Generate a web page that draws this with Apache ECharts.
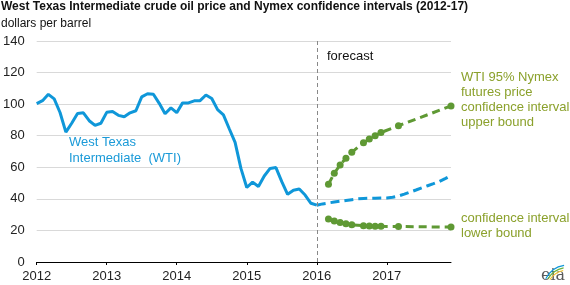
<!DOCTYPE html>
<html>
<head>
<meta charset="utf-8">
<style>
  html, body { margin: 0; padding: 0; background: #fff; }
  #chart { width: 570px; height: 285px; }
</style>
<script src="https://cdn.jsdelivr.net/npm/echarts@6/dist/echarts.min.js"></script>
</head>
<body>
<div id="chart"></div>
<script>
// data
var years = [2012, 2013, 2014, 2015, 2016, 2017];
var yTicks = [0, 20, 40, 60, 80, 100, 120, 140];

// monthly WTI history, Jan 2012 - Jan 2016
var wtiHistory = [
  100.3, 102.2, 106.2, 103.3, 94.7, 82.3, 87.9, 94.1, 94.5, 89.5, 86.5, 87.9,
  94.8, 95.3, 92.9, 92.0, 94.5, 95.8, 104.6, 106.6, 106.3, 100.5, 93.9, 97.6,
  94.6, 100.8, 100.8, 102.1, 102.2, 105.8, 103.6, 96.5, 93.2, 84.4, 75.8, 59.3,
  47.2, 50.6, 47.8, 54.5, 59.3, 59.8, 50.9, 42.9, 45.5, 46.2, 42.4, 37.2,
  36.0
];
// forecast, Jan 2016 - Dec 2017
var wtiForecast = [
  36.0, 36.8, 37.4, 38.0, 38.5, 39.0, 39.5, 40.0, 40.3, 40.4, 40.4, 40.5,
  40.6, 41.0, 41.8, 43.0, 44.3, 45.6, 47.0, 48.3, 49.6, 51.0, 52.8, 54.7
];
// confidence bounds (null = no contract point that month), Jan 2016 - Dec 2017
var upperBound = [
  null, null, 49.3, 56.2, 61.5, 65.7, 69.5, null, 75.6, 77.9, 80.0, 82.0,
  null, null, 86.3, null, null, null, null, null, null, null, null, 98.9
];
var lowerBound = [
  null, null, 27.2, 26.0, 25.0, 24.2, 23.6, null, 23.0, 22.8, 22.7, 22.6,
  null, null, 22.5, null, null, null, null, null, null, null, null, 22.1
];

var months = [];
years.forEach(function (y) {
  for (var m = 1; m <= 12; m++) {
    months.push(y + '-' + (m < 10 ? '0' + m : m));
  }
});
var startForecast = months.indexOf('2016-01');

function pad(arr, offset) {
  var out = [];
  for (var i = 0; i < months.length; i++) {
    var j = i - offset;
    out.push(j >= 0 && j < arr.length ? arr[j] : null);
  }
  return out;
}

var font = 'Arial, "Liberation Sans", sans-serif';
var blue = '#0f97d9';
var green = '#5f9934';
var greenText = '#8ba12c';

var myChart = echarts.init(document.getElementById('chart'));
var option = {
  animation: false,
  title: {
    text: 'West Texas Intermediate crude oil price and Nymex confidence intervals (2012-17)',
    subtext: 'dollars per barrel',
    left: 1,
    top: 1,
    padding: 0,
    itemGap: 5,
    textStyle: { fontFamily: font, fontSize: 12, fontWeight: 'bold', color: '#111' },
    subtextStyle: { fontFamily: font, fontSize: 12, color: '#111' }
  },
  grid: { left: 34, right: 119, top: 41, bottom: 23 },
  xAxis: {
    type: 'category',
    data: months,
    boundaryGap: false,
    axisLine: { lineStyle: { color: '#000', width: 1 } },
    axisTick: {
      length: 3,
      lineStyle: { color: '#000' },
      interval: function (i) { return i % 12 === 0; }
    },
    axisLabel: {
      interval: function (i) { return i % 12 === 0; },
      formatter: function (v) { return v.slice(0, 4); },
      fontFamily: font, fontSize: 13, color: '#222', margin: 8
    },
    splitLine: { show: false }
  },
  yAxis: {
    type: 'value',
    min: yTicks[0],
    max: yTicks[yTicks.length - 1],
    interval: 20,
    axisLine: { show: false },
    axisTick: { show: false },
    axisLabel: { fontFamily: font, fontSize: 13, color: '#222', margin: 12 },
    splitLine: { lineStyle: { color: '#d9d9d9', width: 1 } }
  },
  series: [
    {
      name: 'WTI',
      type: 'line',
      data: pad(wtiHistory, 0),
      showSymbol: false,
      lineStyle: { color: blue, width: 3 },
      markLine: {
        silent: true,
        symbol: 'none',
        label: { show: false },
        lineStyle: { color: '#888', type: [4, 3], width: 1 },
        data: [{ xAxis: '2016-01' }]
      }
    },
    {
      name: 'forecast',
      type: 'line',
      data: pad(wtiForecast, startForecast),
      showSymbol: false,
      lineStyle: { color: blue, width: 3, type: [9, 5] }
    },
    {
      name: 'upper',
      type: 'line',
      data: pad(upperBound, startForecast),
      connectNulls: true,
      showAllSymbol: true,
      symbol: 'circle',
      symbolSize: 7,
      itemStyle: { color: green },
      lineStyle: { color: green, width: 3, type: [8, 5] }
    },
    {
      name: 'lower',
      type: 'line',
      data: pad(lowerBound, startForecast),
      connectNulls: true,
      showAllSymbol: true,
      symbol: 'circle',
      symbolSize: 7,
      itemStyle: { color: green },
      lineStyle: { color: green, width: 3, type: [8, 5] }
    }
  ],
  graphic: [
    {
      type: 'text', x: 327, y: 50,
      style: { text: 'forecast', font: '13px ' + font, fill: '#111' }
    },
    {
      type: 'text', x: 69, y: 135,
      style: { text: 'West Texas\nIntermediate  (WTI)', font: '13px ' + font, fill: '#1a9ad8', lineHeight: 15.5 }
    },
    {
      type: 'text', x: 461, y: 70,
      style: { text: 'WTI 95% Nymex\nfutures price\nconfidence interval\nupper bound', font: '13px ' + font, fill: greenText, lineHeight: 15 }
    },
    {
      type: 'text', x: 461, y: 211.5,
      style: { text: 'confidence interval\nlower bound', font: '13px ' + font, fill: greenText, lineHeight: 14.5 }
    },
    // eia logo
    {
      type: 'text', x: 541, y: 268,
      style: { text: 'eia', font: '16px "DejaVu Serif", serif', fill: '#5a5a5a' }
    },
    {
      type: 'arc',
      shape: { cx: 568, cy: 290, r: 25, startAngle: Math.PI * 1.15, endAngle: Math.PI * 1.45 },
      style: { stroke: '#0f97d9', lineWidth: 1.2, fill: null }
    },
    {
      type: 'arc',
      shape: { cx: 568, cy: 291, r: 23.5, startAngle: Math.PI * 1.17, endAngle: Math.PI * 1.44 },
      style: { stroke: '#6bb33f', lineWidth: 1.2, fill: null }
    },
    {
      type: 'arc',
      shape: { cx: 568, cy: 292, r: 22, startAngle: Math.PI * 1.19, endAngle: Math.PI * 1.43 },
      style: { stroke: '#f2c230', lineWidth: 1.2, fill: null }
    }
  ]
};
myChart.setOption(option);
window.addEventListener('resize', function () {
  myChart.resize();
});
</script>
</body>
</html>
